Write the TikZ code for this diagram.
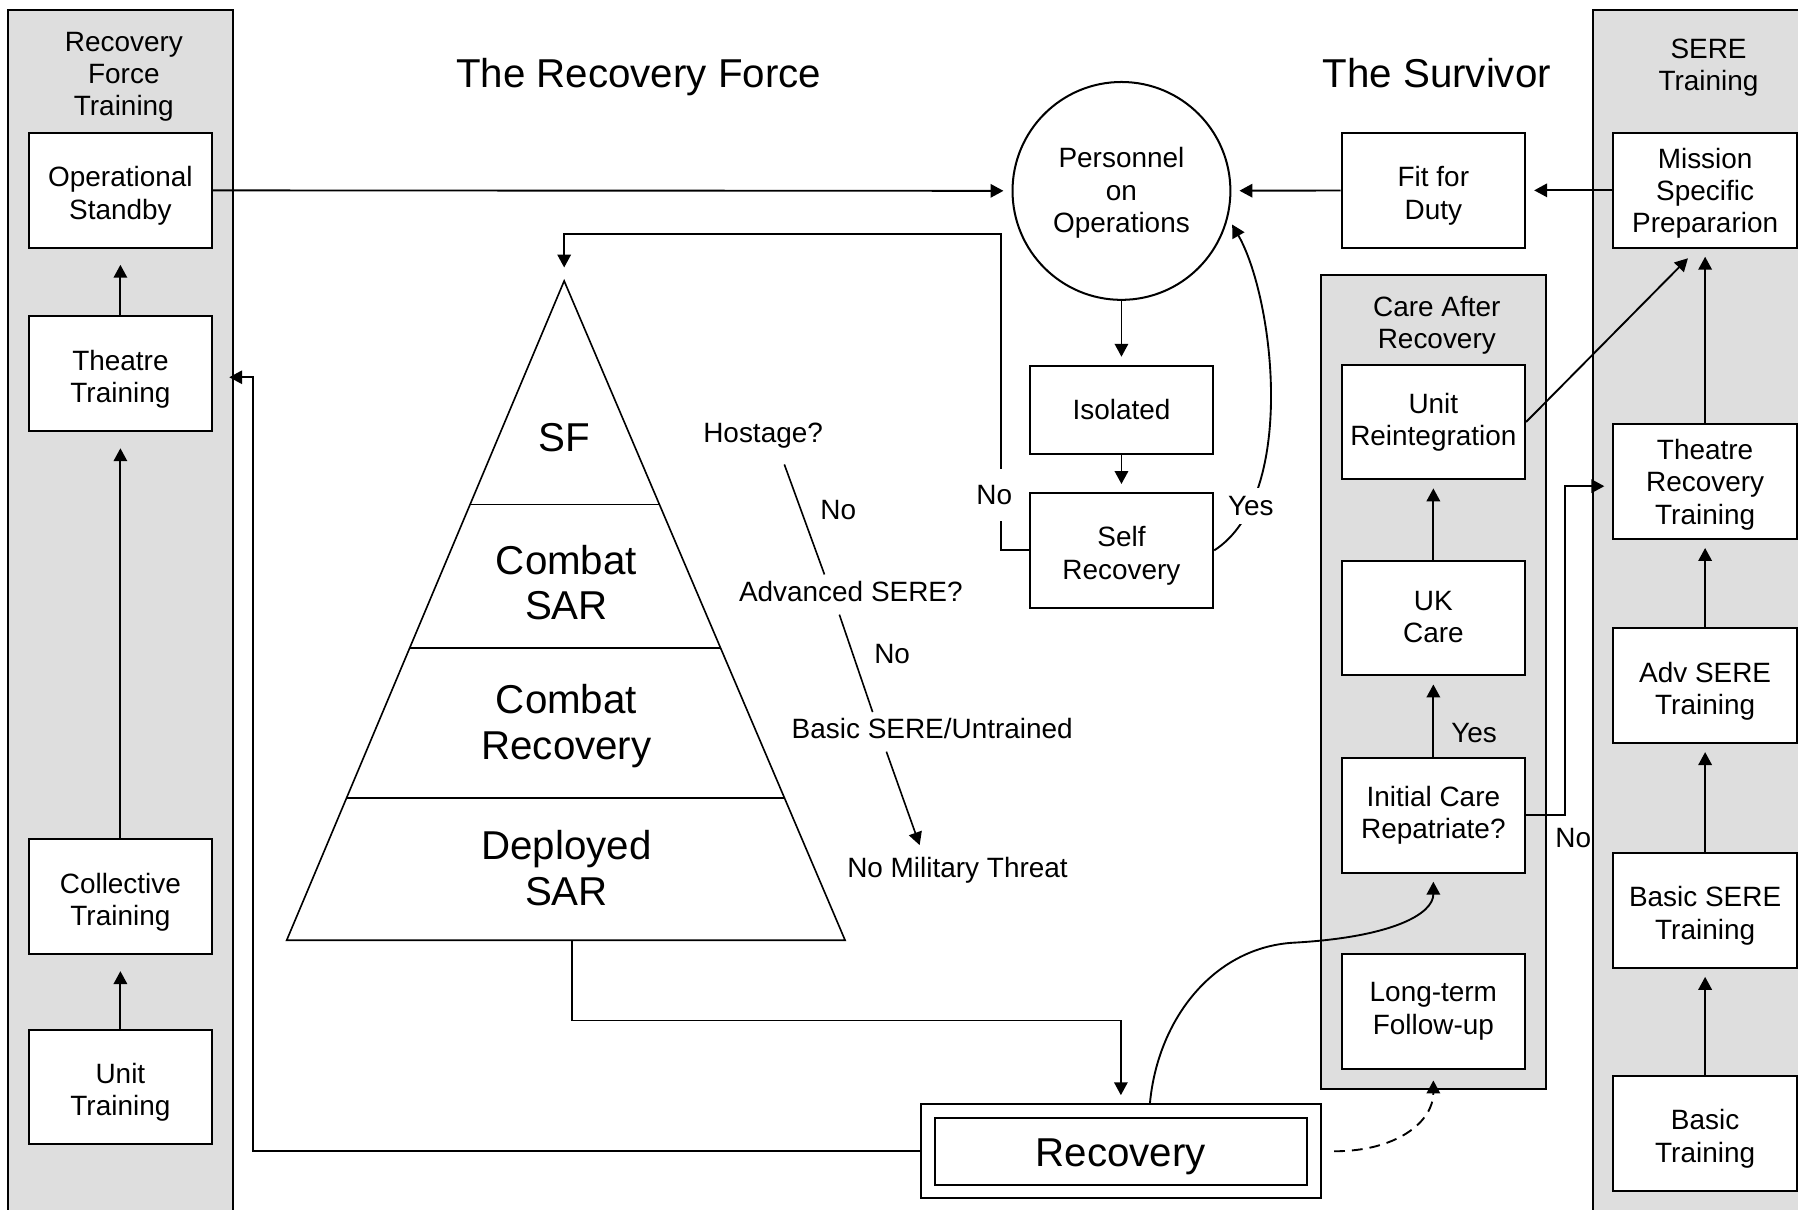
\documentclass[tikz,border=0pt]{standalone}
\usepackage{fontspec}
\setmainfont{Liberation Sans}
\usetikzlibrary{arrows.meta,calc}

\newsavebox{\txtbox}
\def\txtdrop{0pt}

\tikzset{
	textdrop/.code={\def\txtdrop{#1}},
	dropped/.style={
		execute at begin node={\setbox\txtbox=\hbox\bgroup},
		execute at end node={\egroup\dimen0=\ht\txtbox\dimen2=\dp\txtbox
			\raisebox{-\txtdrop}[\dimen0][\dimen2]{\box\txtbox}}},
	panel/.style={draw, fill=black!13, line width=0.75pt},
	box/.style={draw, fill=white, line width=0.75pt, minimum width=2.4cm, minimum height=1.5cm,
		align=center, inner sep=1pt, font=\fontsize{10.4}{12}\selectfont, dropped, textdrop=2pt},
	heading/.style={align=center, font=\fontsize{10.4}{12}\selectfont},
	txt/.style={font=\fontsize{10.4}{12}\selectfont},
	maintitle/.style={font=\fontsize{15}{18}\selectfont},
	tier/.style={align=center, font=\fontsize{15}{17}\selectfont},
	flow/.style={-{Triangle[length=4.8pt,width=5pt]}, line width=0.7pt, shorten >=3pt},
}

\begin{document}
\begin{tikzpicture}[x=1.5cm, y=-1.5cm]
		\useasboundingbox (0,0) rectangle (15.68,10.55);
		
		% Shaded columns
		\draw[panel] (0.07,0.09) rectangle (2.03,10.8);
		\draw[panel] (13.89,0.09) rectangle (16.2,10.8);
		\draw[panel] (11.52,2.40) rectangle (13.48,9.50);
		
		\node[heading] (rftrain) at (1.08,0.67) {Recovery\\Force\\Training};
		\node[heading] (seretrain) at (14.90,0.59) {SERE\\Training};
		\node[heading] (carehead) at (12.53,2.84) {Care After\\Recovery};
		
		\node[maintitle] (rforce) at (5.57,0.67) {The Recovery Force};
		\node[maintitle] (survivor) at (12.53,0.64) {The Survivor};
		
		% Recovery force training
		\node[box] (opstand) at (1.05,1.66) {Operational\\Standby};
		\node[box] (theatre) at (1.05,3.26) {Theatre\\Training};
		\node[box] (collect) at (1.05,7.82) {Collective\\Training};
		\node[box] (unittr) at (1.05,9.48) {Unit\\Training};
		
		\draw[flow, shorten >=6pt] (unittr) -- (collect);
		\draw[flow, shorten >=6pt] (collect) -- (theatre);
		\draw[flow, shorten >=6pt] (theatre) -- (opstand);
		
		% SERE training
		\node[box, textdrop=1.1pt] (mission) at (14.87,1.66) {Mission\\Specific\\Prepararion};
		\node[box, textdrop=1.1pt] (threc) at (14.87,4.20) {Theatre\\Recovery\\Training};
		\node[box] (advsere) at (14.87,5.98) {Adv SERE\\Training};
		\node[box] (bsere) at (14.87,7.94) {Basic SERE\\Training};
		\node[box] (basic) at (14.87,9.885) {Basic\\Training};
		
		\draw[flow] (basic) -- (bsere);
		\draw[flow] (bsere) -- (advsere);
		\draw[flow] (advsere) -- (threc);
		\draw[flow] (threc) -- (mission);
		
		% The survivor
		\node[box] (fit) at (12.50,1.66) {Fit for\\Duty};
		\node[draw, circle, fill=white, line width=0.75pt, minimum size=2.85cm, inner sep=0pt,
			align=center, font=\fontsize{10.4}{12}\selectfont, dropped, textdrop=0.7pt] (pers) at (9.78,1.665) {Personnel\\on\\Operations};
		\node[box, minimum height=1.155cm, textdrop=0pt] (isol) at (9.78,3.575) {Isolated};
		\node[box] (self) at (9.78,4.80) {Self\\Recovery};
		
		\draw[flow] (mission) -- (fit);
		\draw[flow] (fit) -- (pers);
		\draw[flow] (opstand) -- (pers);
		\draw[flow] (pers) -- (isol);
		\draw[flow] (isol) -- (self);
		\draw[flow] (self.east) .. controls +(0.73,-0.47) and +(0.4,0.7) ..
			node[pos=0.19, fill=white, inner sep=3pt, txt] {Yes} (pers.-14);
		
		% Care after recovery
		\node[box, textdrop=0pt] (unitre) at (12.50,3.68) {Unit\\Reintegration};
		\node[box, textdrop=-0.5pt] (ukcare) at (12.50,5.39) {UK\\Care};
		\node[box, textdrop=0pt] (initial) at (12.50,7.11) {Initial Care\\Repatriate?};
		\node[box, textdrop=0pt] (longterm) at (12.50,8.82) {Long-term\\Follow-up};
		
		\draw[flow] (ukcare) -- (unitre);
		\draw[flow] (initial) -- node[pos=0.3, right=3pt, txt] {Yes} (ukcare);
		\draw[flow] (unitre.east) -- ([xshift=-0.15cm, yshift=-0.05cm]mission.south);
		
		\coordinate (nobend2) at (13.65,4.24);
		\draw[flow] (initial.east) -| (nobend2) -- (nobend2 -| threc.west);
		\node[txt] (repno) at (13.72,7.31) {No};
		
		% Recovery
		\node[box, minimum width=5.235cm, minimum height=1.23cm, font=\fontsize{15}{17}\selectfont] (recov) at (9.775,10.04) {Recovery};
		\node[draw, line width=0.75pt, minimum width=4.875cm, minimum height=0.87cm] (recovin) at (recov) {};
		
		% Force pyramid
		\coordinate (apex) at (4.92,2.45);
		\coordinate (pleft) at (2.50,8.20);
		\coordinate (pright) at (7.37,8.20);
		\coordinate (pbase) at (4.99,8.20);
		\draw[line width=0.6pt] (apex) -- (pleft) -- (pright) -- cycle;
		\foreach \f in {0.339,0.557,0.784}
			\draw[line width=0.6pt] ($(apex)!\f!(pleft)$) -- ($(apex)!\f!(pright)$);
		
		\node[tier] (sf) at (4.92,3.82) {SF};
		\node[tier] (csar) at (4.94,5.08) {Combat\\SAR};
		\node[tier] (crec) at (4.94,6.33) {Combat\\Recovery};
		\node[tier] (dsar) at (4.94,7.57) {Deployed\\SAR};
		
		% Threat questions
		\node[txt] (qhost) at (6.655,3.80) {Hostage?};
		\node[txt] (nohost) at (7.31,4.45) {No};
		\node[txt] (qadv) at (7.42,5.16) {Advanced SERE?};
		\node[txt] (noadv) at (7.78,5.70) {No};
		\node[txt] (qbasic) at (8.13,6.35) {Basic SERE/Untrained};
		\node[txt] (qnone) at (8.35,7.59) {No Military Threat};
		
		\coordinate (h1) at (6.84,4.05);
		\coordinate (h2) at (7.19,5.01);
		\coordinate (a1) at (7.32,5.36);
		\coordinate (a2) at (7.61,6.21);
		\coordinate (b1) at (7.73,6.555);
		\coordinate (b2) at (8.02,7.37);
		\draw[line width=0.6pt] (h1) -- (h2);
		\draw[line width=0.6pt] (a1) -- (a2);
		\draw[flow, line width=0.6pt, shorten >=0pt] (b1) -- (b2);
		
		% Connections round the recovery
		\coordinate (nobend) at (8.73,2.04);
		\draw[flow, shorten >=5pt] (self.west) -| node[pos=0.587, fill=white, inner xsep=1pt, inner ysep=6pt,
			xshift=-0.09cm, txt] {No} (nobend) -| (apex);
		
		\draw[flow] (pbase) -- ++(0,0.70) -| (recov.north);
		
		\coordinate (tbend) at (2.21,3.29);
		\draw[flow, shorten >=6pt] (recov.west) -| (tbend) -- (tbend -| theatre.east);
		
		\draw[flow] ([xshift=0.38cm]recov.north) .. controls +(0.07,-0.75) and +(-0.7,0.03) .. (11.30,8.22)
			.. controls +(0.85,-0.05) and +(0,0.35) .. (initial.south);
		\draw[flow, dash pattern=on 4pt off 2.6pt, shorten >=4pt] ([xshift=0.16cm]recov.east)
			.. controls +(0.55,0) and +(0,0.45) .. (longterm.south);
	\end{tikzpicture}
\end{document}
